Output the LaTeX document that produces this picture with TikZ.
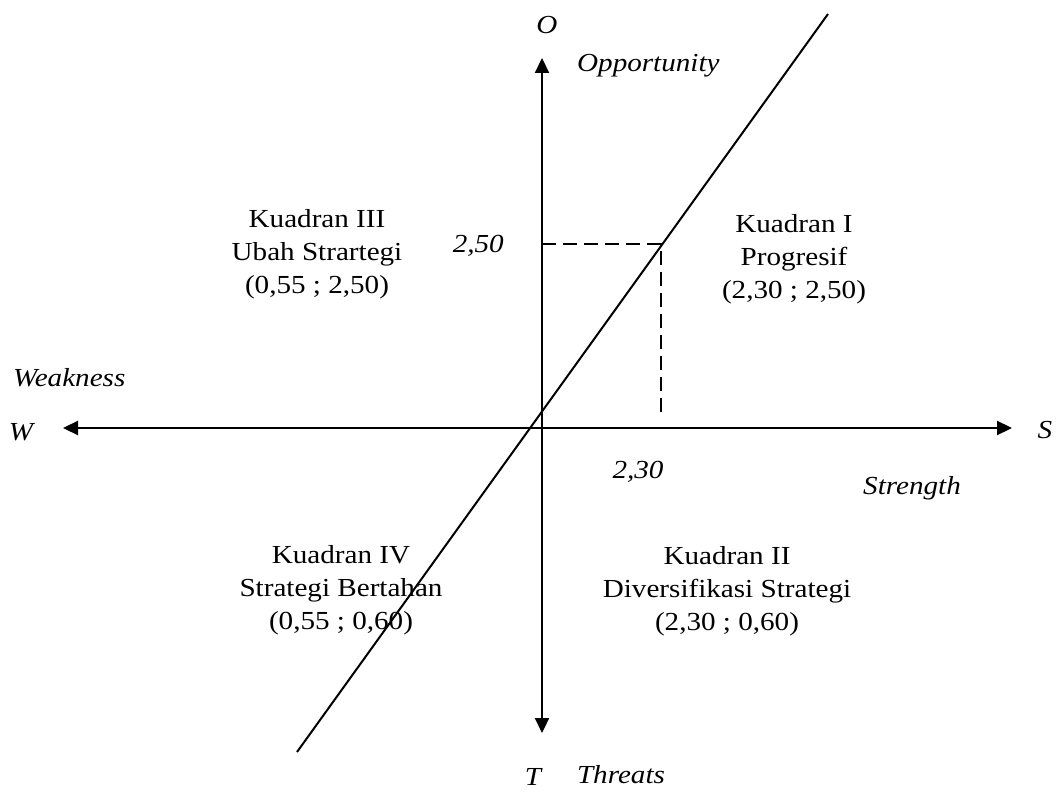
\documentclass[tikz,border=0pt]{standalone}
\usepackage{fontspec}
\setmainfont{Liberation Serif}[FakeStretch=1.12]
\usetikzlibrary{arrows.meta}
\begin{document}
\begin{tikzpicture}[x=1pt,y=-1pt,
  axis/.style={line width=2.2pt,{Triangle[length=15pt,width=14pt]}-{Triangle[length=15pt,width=14pt]}},
  lbl/.style={font=\fontsize{26}{33}\selectfont\itshape,inner sep=0pt},
  quad/.style={font=\fontsize{26}{33}\selectfont,align=center,inner sep=0pt},
  guideline/.style={line width=2pt,dash pattern=on 14pt off 7pt}]
\useasboundingbox (0,0) rectangle (1056,794);
\coordinate (top) at (542,58);
\coordinate (bot) at (542,733);
\coordinate (lft) at (63,428);
\coordinate (rgt) at (1012,428);
\coordinate (d1) at (297,752);
\coordinate (d2) at (828,14);
\coordinate (p) at (661,244);
\coordinate (py) at (542,244);
\coordinate (px) at (661,413);
\draw[axis] (bot) -- (top);
\draw[axis] (lft) -- (rgt);
\draw[line width=2pt] (d1) -- (d2);
\draw[guideline] (py) -- (p) -- (px);
\node[lbl] (O) at (547,25) {O};
\node[lbl,anchor=west] (opp) at (577,66) {Opportunity};
\node[lbl,anchor=west] (weak) at (13,378) {Weakness};
\node[lbl] (W) at (21,432) {W};
\node[lbl] (S) at (1045,430) {S};
\node[lbl] (str) at (912,488) {Strength};
\node[lbl] (x230) at (638,472) {2,30};
\node[lbl,anchor=east] (y250) at (504,246) {2,50};
\node[lbl] (T) at (533,777) {T};
\node[lbl] (thr) at (621,775) {Threats};
\node[quad] (q3) at (317,254) {Kuadran III\\Ubah Strartegi\\(0,55 ; 2,50)};
\node[quad] (q1) at (794,259) {Kuadran I\\Progresif\\(2,30 ; 2,50)};
\node[quad] (q4) at (341,590) {Kuadran IV\\Strategi Bertahan\\(0,55 ; 0,60)};
\node[quad] (q2) at (727,591) {Kuadran II\\Diversifikasi Strategi\\(2,30 ; 0,60)};
\end{tikzpicture}
\end{document}
